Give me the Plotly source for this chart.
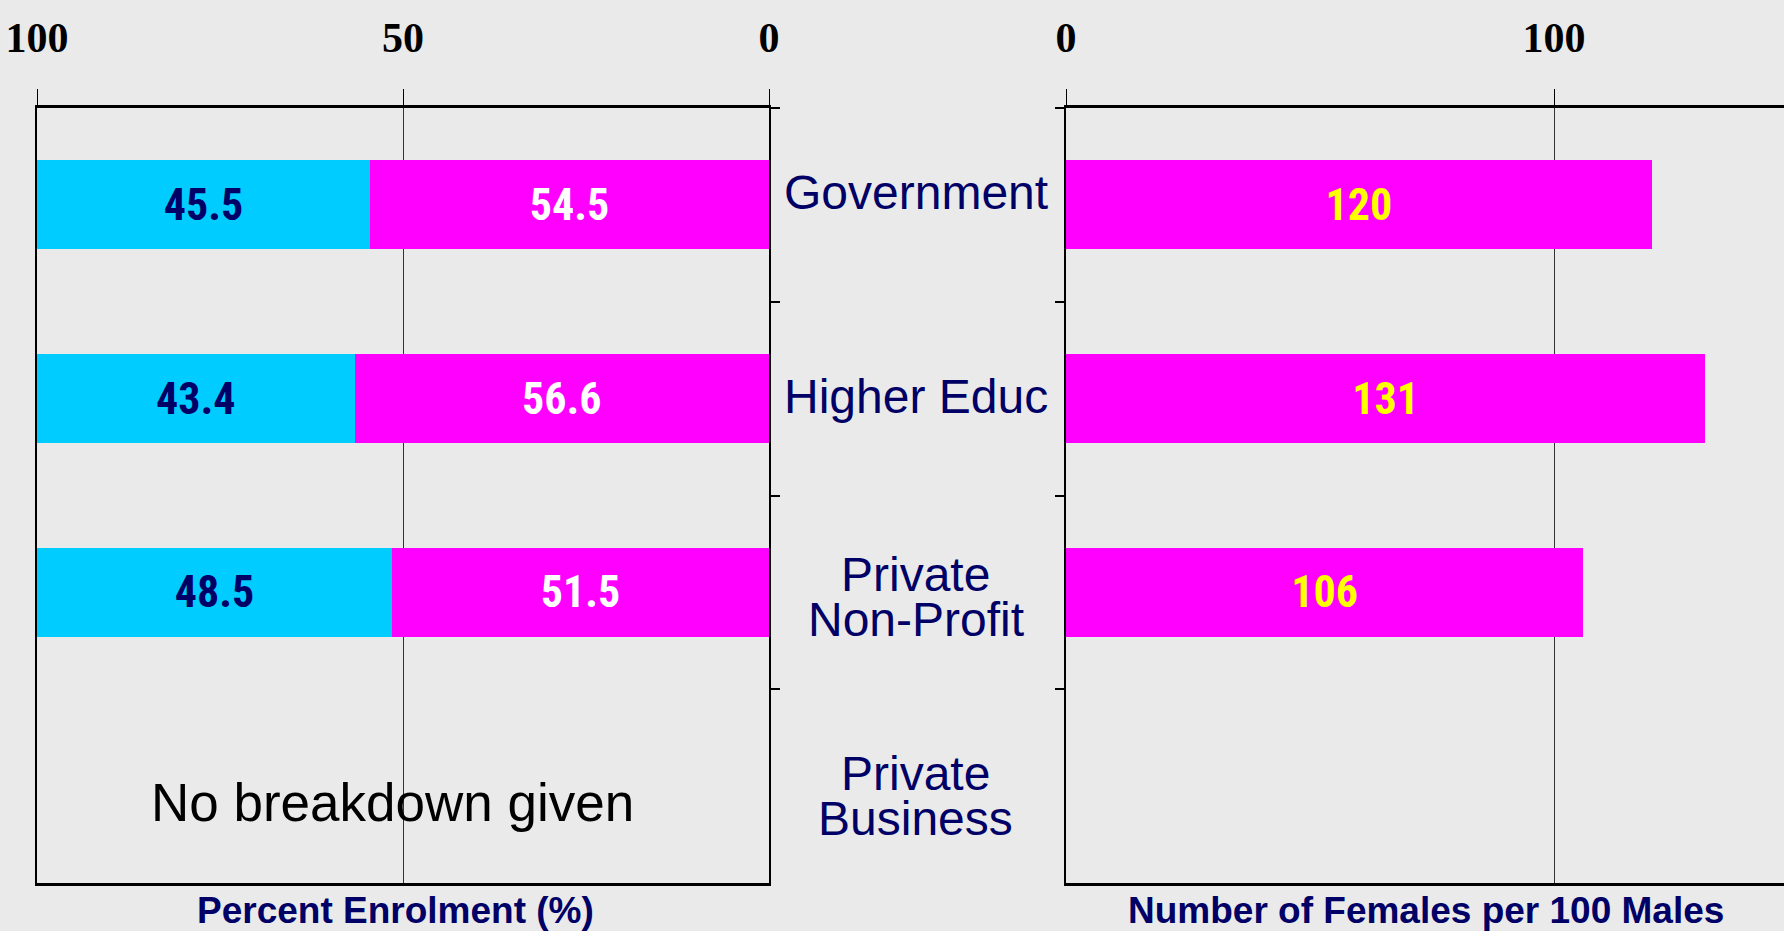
import plotly.graph_objects as go

# ---- data ----
categories = ["Government", "Higher Educ", "Private Non-Profit", "Private Business"]
category_lines = [["Government"], ["Higher Educ"], ["Private", "Non-Profit"], ["Private", "Business"]]
male_pct = [45.5, 43.4, 48.5, None]
female_pct = [54.5, 56.6, 51.5, None]
females_per_100_males = [120, 131, 106, None]
left_ticks = [100, 50, 0]
right_ticks = [0, 100]
left_title = "Percent Enrolment (%)"
right_title = "Number of Females per 100 Males"
no_data_note = "No breakdown given"

# ---- style ----
BG = "#EAEAEA"
CYAN = "#00CCFF"
MAGENTA = "#FF00FF"
NAVY = "#000066"
W, H = 1784, 931
narrow = "Roboto Condensed, Liberation Sans Narrow, Arial Narrow, Liberation Sans, sans-serif"
serif = "Liberation Serif, Times New Roman, serif"
sans = "Liberation Sans, Arial, sans-serif"
label_yshift = [12, 2, -5, -10]

fig = go.Figure()

bar_text = dict(textposition="inside", insidetextanchor="middle", textangle=0, constraintext="none")
fig.add_trace(go.Bar(
    y=categories, x=female_pct, orientation="h", marker=dict(color=MAGENTA, line=dict(width=0)),
    text=[None if v is None else f"{v:.1f}" for v in female_pct],
    textfont=dict(family=narrow, size=44, color="white", weight="bold"),
    width=0.46, xaxis="x", yaxis="y", showlegend=False, hoverinfo="x+y", **bar_text))
fig.add_trace(go.Bar(
    y=categories, x=male_pct, orientation="h", marker=dict(color=CYAN, line=dict(width=0)),
    text=[None if v is None else f"{v:.1f}" for v in male_pct],
    textfont=dict(family=narrow, size=44, color=NAVY, weight="bold"),
    width=0.46, xaxis="x", yaxis="y", showlegend=False, hoverinfo="x+y", **bar_text))
fig.add_trace(go.Bar(
    y=categories, x=females_per_100_males, orientation="h", marker=dict(color=MAGENTA, line=dict(width=0)),
    text=[None if v is None else f"{v:d}" for v in females_per_100_males],
    textfont=dict(family=narrow, size=44, color="#FFFF00", weight="bold"),
    width=0.46, xaxis="x2", yaxis="y2", showlegend=False, hoverinfo="x+y", **bar_text))

x1_dom = [37 / W, 769 / W]
x2_dom = [1066 / W, 1.0]
y_dom = [(H - 883) / H, (H - 108) / H]

common_x = dict(side="top", showline=True, linewidth=3, linecolor="black", mirror=True,
                ticks="outside", ticklen=16, tickwidth=1, tickcolor="black",
                showgrid=True, gridcolor="#333333", gridwidth=1, zeroline=False,
                tickfont=dict(family=serif, size=42, color="black", weight="bold"),
                ticklabelstandoff=20, automargin=False, fixedrange=True)
common_y = dict(type="category", categoryorder="array", categoryarray=categories,
                autorange="reversed", showticklabels=False, showgrid=False,
                ticks="outside", tickson="boundaries", ticklen=9, tickwidth=2, tickcolor="black",
                showline=True, linecolor="black", linewidth=1.5, domain=y_dom,
                automargin=False, fixedrange=True)

fig.update_layout(
    width=W, height=H, paper_bgcolor=BG, plot_bgcolor=BG,
    margin=dict(l=0, r=0, t=0, b=0, autoexpand=False), barmode="stack", bargap=0.54,
    xaxis=dict(domain=x1_dom, range=[100, 0], tickvals=left_ticks, anchor="y", **common_x),
    xaxis2=dict(domain=x2_dom, range=[0, 147.1], tickvals=right_ticks, anchor="y2", **common_x),
    yaxis=dict(side="right", anchor="x", mirror=True, **common_y),
    yaxis2=dict(side="left", anchor="x2", mirror=False, **common_y),
)

annotations = []
mid_x = (x1_dom[1] + x2_dom[0]) / 2 - 2 / W
line_gap = 45
for cat, lines, ys in zip(categories, category_lines, label_yshift):
    n = len(lines)
    for i, ln in enumerate(lines):
        off = ((n - 1) / 2 - i) * line_gap
        annotations.append(dict(xref="paper", yref="y2", x=mid_x, y=cat, yshift=off + ys,
                                text=ln, showarrow=False, xanchor="center", yanchor="middle",
                                font=dict(family=sans, size=48, color=NAVY)))
annotations.append(dict(xref="x", yref="y", x=51.5, y=categories[3], yshift=-16, text=no_data_note,
                        showarrow=False, xanchor="center", yanchor="middle",
                        font=dict(family=sans, size=53, color="black")))
annotations.append(dict(xref="paper", yref="paper", x=395 / W, y=(H - 910) / H, text=left_title,
                        showarrow=False, xanchor="center", yanchor="middle",
                        font=dict(family=sans, size=37, color=NAVY, weight="bold")))
annotations.append(dict(xref="paper", yref="paper", x=1426 / W, y=(H - 910) / H, text=right_title,
                        showarrow=False, xanchor="center", yanchor="middle",
                        font=dict(family=sans, size=37, color=NAVY, weight="bold")))
fig.update_layout(annotations=annotations)

fig.write_html("out.html", config={"displayModeBar": False},
               post_script="document.body.style.margin='0';document.body.style.overflow='hidden';"
                           "document.body.style.background='" + BG + "';")
